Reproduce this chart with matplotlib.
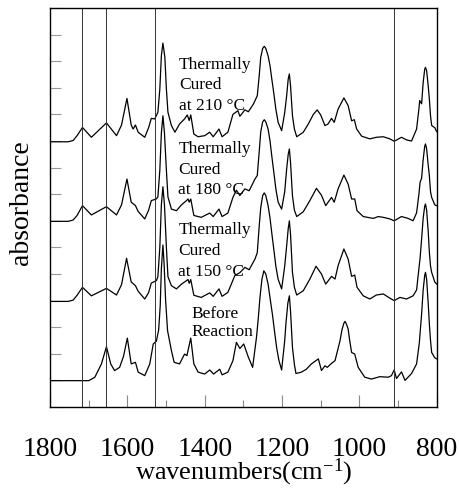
import matplotlib
matplotlib.use('Agg')
import matplotlib.pyplot as plt
from matplotlib.ticker import MultipleLocator

plt.rcParams['font.family'] = ['Liberation Serif', 'DejaVu Serif']
plt.rcParams['mathtext.fontset'] = 'custom'
plt.rcParams['mathtext.rm'] = 'Liberation Serif'
plt.rcParams['mathtext.it'] = 'Liberation Serif:italic'

# ---- data (wavenumber cm-1, absorbance with vertical offsets) ----
wn_210 = [1800, 1753, 1740, 1730, 1716, 1693, 1654, 1628, 1615, 1601, 1590, 1585, 1579, 1572,
          1555, 1545, 1538, 1529, 1521, 1516, 1512, 1508, 1503, 1499, 1495, 1486, 1477, 1465,
          1452, 1445, 1440, 1436, 1428, 1417, 1400, 1387, 1378, 1363, 1355, 1340, 1327, 1314,
          1309, 1296, 1287, 1274, 1264, 1259, 1255, 1250, 1246, 1242, 1236, 1231, 1227, 1221,
          1216, 1210, 1201, 1193, 1188, 1184, 1181, 1178, 1173, 1168, 1162, 1145, 1132, 1119,
          1109, 1100, 1089, 1081, 1072, 1065, 1055, 1040, 1029, 1020, 1013, 1007, 994, 973,
          956, 938, 921, 910, 891, 878, 865, 852, 846, 844, 839, 835, 831, 829, 826, 822,
          819, 816, 813, 805, 800]
ab_210 = [9.97, 9.97, 10.02, 10.2, 10.51, 10.14, 10.68, 10.2, 10.6, 11.6, 10.6, 10.45, 10.6, 10.33,
          10.14, 10.5, 10.85, 10.83, 11.08, 11.95, 13.21, 13.68, 13.15, 11.95, 11.08, 10.58, 10.33, 10.64,
          10.83, 10.98, 10.77, 10.98, 10.26, 10.16, 10.2, 10.33, 10.16, 10.45, 10.16, 10.33, 11.0, 11.14,
          10.93, 11.17, 11.1, 11.39, 11.7, 12.45, 13.15, 13.48, 13.56, 13.48, 13.2, 12.83, 12.39, 11.77,
          11.2, 10.7, 10.39, 11.07, 11.7, 12.33, 12.52, 12.08, 10.95, 10.45, 10.16, 10.33, 10.64, 11.0,
          11.17, 10.98, 10.58, 10.64, 10.85, 10.7, 11.2, 11.62, 11.33, 10.76, 10.8, 10.45, 10.18, 10.08,
          10.14, 10.16, 10.08, 9.99, 10.14, 10.04, 10.0, 10.45, 11.2, 11.52, 11.4, 12.2, 12.7, 12.77, 12.64, 12.08,
          11.58, 10.95, 10.58, 10.5, 10.35]

wn_180 = [1800, 1753, 1740, 1730, 1716, 1693, 1654, 1628, 1615, 1601, 1590, 1579, 1572, 1555,
          1545, 1538, 1525, 1521, 1516, 1512, 1508, 1504, 1499, 1495, 1486, 1473, 1460, 1447,
          1443, 1440, 1436, 1428, 1409, 1387, 1378, 1363, 1355, 1340, 1327, 1318, 1309, 1296,
          1285, 1270, 1264, 1259, 1255, 1250, 1246, 1242, 1236, 1231, 1227, 1221, 1216, 1210,
          1201, 1193, 1188, 1184, 1181, 1178, 1173, 1168, 1162, 1145, 1128, 1111, 1098, 1087,
          1072, 1065, 1055, 1040, 1029, 1020, 1012, 1006, 990, 964, 951, 938, 921, 910, 891,
          874, 861, 852, 846, 843, 839, 835, 831, 829, 826, 822, 819, 816, 813, 805, 800]
ab_180 = [6.98, 6.98, 7.03, 7.2, 7.57, 7.22, 7.53, 7.22, 7.6, 8.57, 7.7, 7.57, 7.35, 7.07,
          7.4, 7.76, 7.82, 7.9, 8.9, 10.3, 10.95, 10.3, 8.9, 7.9, 7.44, 7.38, 7.6, 7.76,
          7.82, 7.7, 7.82, 7.2, 7.13, 7.29, 7.16, 7.44, 7.16, 7.29, 7.88, 8.15, 7.95, 8.2,
          8.13, 8.57, 8.7, 9.6, 10.35, 10.72, 10.8, 10.72, 10.45, 10.0, 9.5, 8.8, 8.2, 7.7,
          7.44, 8.1, 8.95, 9.5, 9.7, 9.2, 7.94, 7.4, 7.16, 7.34, 7.76, 8.22, 7.96, 7.57,
          7.88, 7.7, 8.2, 8.72, 8.38, 7.82, 7.82, 7.38, 7.16, 7.09, 7.16, 7.13, 7.07, 7.0, 7.16,
          7.09, 7.0, 7.3, 8.0, 8.45, 8.6, 9.3, 9.8, 9.89, 9.7, 9.1, 8.7, 8.1, 7.88, 7.6, 7.57]

wn_150 = [1800, 1753, 1740, 1730, 1716, 1693, 1654, 1628, 1615, 1602, 1590, 1579, 1572, 1555,
          1545, 1538, 1525, 1521, 1516, 1512, 1508, 1504, 1499, 1495, 1486, 1473, 1460, 1443,
          1440, 1436, 1428, 1409, 1387, 1378, 1363, 1355, 1340, 1322, 1309, 1296, 1285, 1270,
          1264, 1259, 1255, 1250, 1246, 1242, 1236, 1231, 1227, 1221, 1216, 1210, 1201, 1193,
          1188, 1184, 1181, 1178, 1173, 1168, 1162, 1145, 1128, 1112, 1098, 1087, 1072, 1063,
          1055, 1040, 1029, 1020, 1012, 1006, 990, 973, 956, 938, 921, 910, 895, 878, 861,
          852, 846, 843, 839, 835, 831, 829, 826, 822, 819, 816, 813, 805, 800]
ab_150 = [3.97, 3.97, 4.02, 4.2, 4.5, 4.18, 4.46, 4.21, 4.6, 5.59, 4.7, 4.56, 4.35, 4.06,
          4.3, 4.66, 4.75, 4.9, 6.0, 7.6, 8.28, 7.6, 6.0, 4.9, 4.56, 4.44, 4.62, 4.79,
          4.65, 4.79, 4.2, 4.12, 4.29, 4.16, 4.44, 4.16, 4.31, 4.94, 5.05, 5.25, 5.16, 5.56,
          5.8, 6.8, 7.5, 7.95, 8.05, 7.95, 7.57, 7.1, 6.6, 5.9, 5.3, 4.8, 4.44, 5.3,
          6.06, 6.7, 7.0, 6.5, 5.06, 4.5, 4.21, 4.37, 4.81, 5.29, 5.0, 4.62, 4.91, 4.81,
          5.31, 5.94, 5.56, 4.91, 4.96, 4.5, 4.18, 4.06, 4.21, 4.25, 4.09, 4.0, 4.12, 4.06, 4.18,
          4.4, 5.2, 5.6, 6.32, 7.1, 7.55, 7.63, 7.4, 6.6, 5.82, 5.3, 5.06, 4.7, 4.62]

wn_before = [1800, 1700, 1684, 1667, 1654, 1643, 1633, 1620, 1610, 1600, 1590, 1579, 1572, 1555,
             1542, 1533, 1525, 1519, 1515, 1512, 1508, 1505, 1501, 1496, 1486, 1479, 1465, 1452,
             1446, 1436, 1428, 1417, 1400, 1387, 1377, 1361, 1355, 1340, 1327, 1318, 1309, 1299,
             1287, 1276, 1266, 1261, 1257, 1252, 1247, 1242, 1236, 1231, 1225, 1219, 1214, 1208,
             1201, 1193, 1190, 1185, 1181, 1178, 1173, 1168, 1164, 1150, 1137, 1124, 1106, 1098,
             1089, 1083, 1072, 1063, 1055, 1050, 1045, 1040, 1037, 1033, 1029, 1025, 1020, 1012,
             1003, 986, 969, 947, 925, 917, 910, 904, 891, 882, 865, 852, 845, 839, 835, 831,
             829, 826, 822, 819, 816, 813, 805, 800]
ab_before = [0.99, 0.99, 1.12, 1.62, 2.27, 1.62, 1.37, 1.49, 1.9, 2.59, 1.62, 1.68, 1.31, 1.18,
             1.62, 2.37, 2.47, 2.9, 3.8, 5.2, 6.09, 5.4, 4.0, 2.87, 2.12, 1.68, 1.62, 1.99,
             1.93, 2.59, 1.62, 1.31, 1.24, 1.39, 1.24, 1.42, 1.21, 1.31, 1.74, 2.43, 2.2, 2.37,
             1.87, 1.49, 2.62, 3.4, 4.12, 4.8, 5.12, 5.0, 4.62, 4.1, 3.5, 2.8, 2.24, 1.75,
             1.39, 2.5, 3.12, 3.9, 4.18, 3.6, 2.24, 1.6, 1.26, 1.31, 1.42, 1.62, 1.81, 1.37,
             1.55, 1.49, 1.64, 1.74, 2.2, 2.49, 2.9, 3.15, 3.22, 3.1, 2.93, 2.5, 2.05, 1.99,
             1.49, 1.12, 1.05, 1.14, 1.12, 1.18, 1.39, 1.07, 1.32, 1.0, 1.26, 1.62, 2.4, 3.5, 4.4, 4.95,
             5.06, 4.8, 3.9, 3.12, 2.5, 2.05, 1.85, 1.81]

marker_lines = [1718, 1654, 1528, 910]

labels = ["Thermally\nCured\nat 210 °C", "Thermally\nCured\nat 180 °C",
          "Thermally\nCured\nat 150 °C", "Before\nReaction"]
label_x = [1466, 1468, 1468, 1434]
label_y = [12.14, 8.95, 5.9, 3.2]

xticks = [1800, 1600, 1400, 1200, 1000, 800]

# ---- figure ----
fig = plt.figure(figsize=(4.6, 4.89), dpi=100)
ax = fig.add_axes([50 / 460, 1 - 408 / 489, 386.7 / 460, 399 / 489])

for wn, ab in [(wn_210, ab_210), (wn_180, ab_180), (wn_150, ab_150), (wn_before, ab_before)]:
    ax.plot(wn, ab, color='black', lw=0.9)

for v in marker_lines:
    ax.axvline(v, color='#333333', lw=0.7)

for t, x, y in zip(labels, label_x, label_y):
    ls = 1.15 if t.startswith('Before') else 1.38
    ax.text(x, y, t, fontsize=12.5, ha='left', va='center', linespacing=ls)

ax.set_xlim(1800, 800)
ax.set_ylim(0, 15)
ax.set_xticks(xticks)
ax.set_xticklabels([str(v) for v in xticks])
ax.xaxis.set_minor_locator(MultipleLocator(100))
ax.yaxis.set_major_locator(MultipleLocator(1))
ax.set_yticklabels([])
ax.tick_params(axis='x', which='major', direction='in', length=9, width=0.8, color='#888888',
               labelsize=20, pad=21)
ax.tick_params(axis='x', which='minor', direction='in', length=5, width=0.8, color='#888888')
ax.tick_params(axis='y', which='major', direction='in', length=8, width=0.8, color='#999999')

ax.set_xlabel('wavenumbers(cm$^{-1}$)', fontsize=19, labelpad=-4)
ax.set_ylabel('absorbance', fontsize=20)
ax.yaxis.set_label_coords(-0.042, 0.515)
for s in ax.spines.values():
    s.set_linewidth(1.0)

fig.savefig('out.png', dpi=100)
